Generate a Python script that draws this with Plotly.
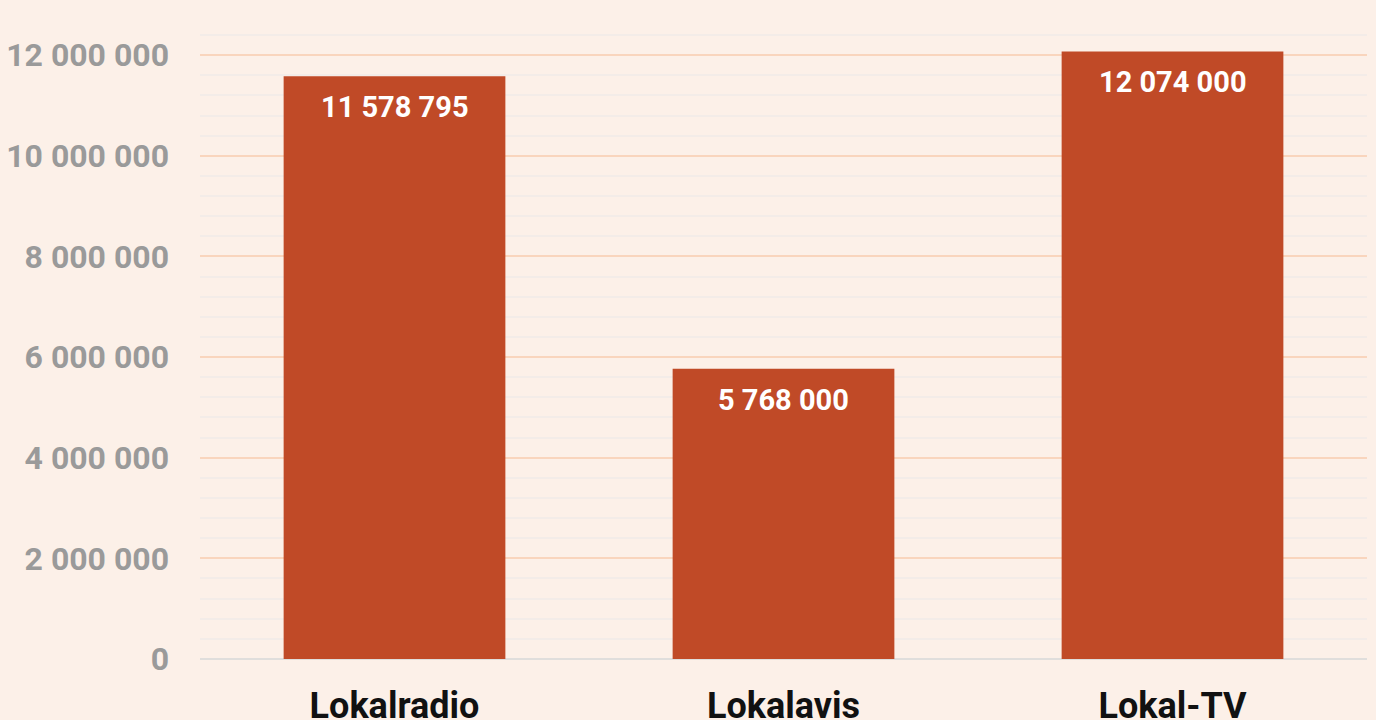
import plotly.graph_objects as go

categories = ["Lokalradio", "Lokalavis", "Lokal-TV"]
values = [11578795, 5768000, 12074000]
tick_vals = [0, 2000000, 4000000, 6000000, 8000000, 10000000, 12000000]

fig = go.Figure(go.Bar(
    x=categories, y=values,
    marker=dict(color="#C04A27", line=dict(width=0)),
    hoverinfo="x+y",
))

for c, v in zip(categories, values):
    fig.add_annotation(
        x=c, y=v, text=f"{v:,}".replace(",", " "),
        yanchor="top", xanchor="center", yshift=-12, showarrow=False,
        font=dict(family="Roboto", size=29, color="white", weight="bold"),
    )

fig.update_layout(
    width=1376, height=720,
    margin=dict(l=200, r=9, t=30, b=61),
    paper_bgcolor="#FCF0E8", plot_bgcolor="#FCF0E8",
    separators=". ",
    bargap=0.43,
    showlegend=False,
    font=dict(family="Roboto"),
)
fig.update_yaxes(
    range=[0, 12500000], automargin=False,
    tickvals=tick_vals, tickformat=",d",
    showgrid=True, gridcolor="#F9D5BD", gridwidth=2,
    minor=dict(dtick=400000, showgrid=True, gridcolor="#F3ECE8", gridwidth=2),
    zeroline=True, zerolinecolor="#E0DEDC", zerolinewidth=2,
    tickfont=dict(family="Roboto", size=32, color="#9A9A9A", weight="bold"),
    ticklabelstandoff=30, ticks="",
)
fig.update_xaxes(
    automargin=False,
    tickfont=dict(family="Roboto", size=36, color="#111111", weight="bold"),
    ticklabelstandoff=22, ticks="", showline=False,
)

fig.write_html(
    "out.html",
    config={"displayModeBar": False},
    post_script="document.body.style.margin='0';document.body.style.overflow='hidden';document.body.style.background='#FCF0E8';",
)
